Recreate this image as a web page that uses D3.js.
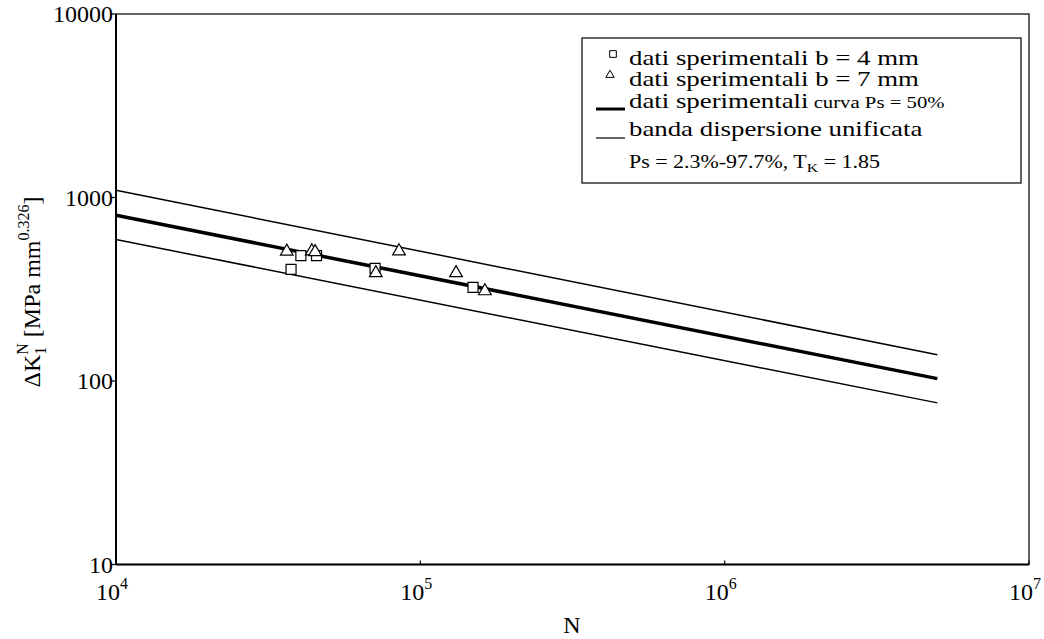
<!DOCTYPE html>
<html>
<head>
<meta charset="utf-8">
<script src="https://cdn.jsdelivr.net/npm/d3@7"></script>
<style>
    body { margin: 0; background: #fff; }
    svg { display: block; font-family: "Liberation Serif", "Times New Roman", serif; }
</style>
</head>
<body>
<svg id="chart" width="1044" height="639"></svg>
<script>

// Experimental points, b = 4 mm (squares)
const b4_N = [37600, 40500, 45600, 71000, 149000];
const b4_dk = [406, 482, 482, 411, 324];

// Experimental points, b = 7 mm (triangles)
const b7_N = [36400, 44000, 45100, 71400, 85100, 131000, 163000];
const b7_dk = [508, 510, 505, 388, 510, 388, 309];

// Curve Ps = 50% and scatter band 2.3% - 97.7% (end points)
const line_N = [1e4, 5e6];
const median_dk = [800, 103];
const upper_dk = [1095, 139];
const lower_dk = [590, 76];

const x_ticks = [1e4, 1e5, 1e6, 1e7];
const x_tick_exp = ["4", "5", "6", "7"];
const y_ticks = [10, 100, 1000, 10000];
const y_tick_labels = ["10", "100", "1000", "10000"];

const legend_items = ["dati sperimentali b = 4 mm", "dati sperimentali b = 7 mm",
    "dati sperimentali", "banda dispersione unificata"];

const svg = d3.select("#chart");

const x = d3.scaleLog().domain([1e4, 1e7]).range([116, 1029]);
const y = d3.scaleLog().domain([10, 10000]).range([564.5, 14]);

// text in the original is slightly stretched horizontally
const stretch = 1.22;

// Plot frame
svg.append("rect")
    .attr("x", x.range()[0]).attr("y", y.range()[1])
    .attr("width", x.range()[1] - x.range()[0])
    .attr("height", y.range()[0] - y.range()[1])
    .attr("fill", "none").attr("stroke", "#000").attr("stroke-width", 1.2);

// Axes lines (thicker)
svg.append("line")
    .attr("x1", x.range()[0]).attr("x2", x.range()[0])
    .attr("y1", y.range()[0]).attr("y2", y.range()[1])
    .attr("stroke", "#000").attr("stroke-width", 2);
svg.append("line")
    .attr("x1", x.range()[0]).attr("x2", x.range()[1])
    .attr("y1", y.range()[0]).attr("y2", y.range()[0])
    .attr("stroke", "#000").attr("stroke-width", 2);

// Y ticks and labels
const yt = svg.append("g").selectAll("g")
    .data(y_ticks)
    .enter().append("g");
yt.append("line")
    .attr("x1", x.range()[0] - 5).attr("x2", x.range()[0])
    .attr("y1", d => y(d)).attr("y2", d => y(d))
    .attr("stroke", "#000").attr("stroke-width", 1.2);
yt.append("text")
    .attr("x", x.range()[0] - 3)
    .attr("y", d => y(d) + 8)
    .attr("text-anchor", "end")
    .style("font-size", "24px")
    .text((d, i) => y_tick_labels[i]);

// X ticks and labels
const xt = svg.append("g").selectAll("g")
    .data(x_ticks)
    .enter().append("g");
xt.append("line")
    .attr("x1", d => x(d)).attr("x2", d => x(d))
    .attr("y1", y.range()[0] - 4).attr("y2", y.range()[0])
    .attr("stroke", "#000").attr("stroke-width", 1.2);
const xl = xt.append("text")
    .attr("x", d => x(d) - 20)
    .attr("y", 600)
    .style("font-size", "24px");
xl.append("tspan").text("10");
xl.append("tspan")
    .attr("dy", -11)
    .style("font-size", "16px")
    .text((d, i) => x_tick_exp[i]);

// Axis titles
svg.append("text")
    .attr("x", 572).attr("y", 633)
    .attr("text-anchor", "middle")
    .style("font-size", "24px")
    .text("N");

const ylab = svg.append("text")
    .attr("transform", "translate(40,292) rotate(-90)")
    .attr("text-anchor", "middle")
    .style("font-size", "24px");
ylab.append("tspan").text("ΔK");
ylab.append("tspan").attr("dy", 6).style("font-size", "16px").text("1");
ylab.append("tspan").attr("dy", -18).attr("dx", -8).style("font-size", "16px").text("N");
ylab.append("tspan").attr("dy", 12).text(" [MPa mm");
ylab.append("tspan").attr("dy", -11).style("font-size", "16px").text("0.326");
ylab.append("tspan").attr("dy", 11).text("]");

// Lines
const line = d3.line()
    .x(d => x(d[0]))
    .y(d => y(d[1]));

function draw_line(vals, width) {
    svg.append("path")
        .datum(d3.zip(line_N, vals))
        .attr("d", line)
        .attr("fill", "none")
        .attr("stroke", "#000")
        .attr("stroke-width", width);
}
draw_line(upper_dk, 1.5);
draw_line(lower_dk, 1.5);
draw_line(median_dk, 3.5);

// Symbols
const sq = d3.symbol().type(d3.symbolSquare).size(100);
const tri = d3.symbol().type(d3.symbolTriangle).size(70);

svg.append("g").selectAll("path")
    .data(d3.zip(b4_N, b4_dk))
    .enter().append("path")
    .attr("d", sq)
    .attr("transform", d => `translate(${x(d[0])},${y(d[1])})`)
    .attr("fill", "#fff").attr("stroke", "#000").attr("stroke-width", 1.2);

svg.append("g").selectAll("path")
    .data(d3.zip(b7_N, b7_dk))
    .enter().append("path")
    .attr("d", tri)
    .attr("transform", d => `translate(${x(d[0])},${y(d[1])})`)
    .attr("fill", "#fff").attr("stroke", "#000").attr("stroke-width", 1.2);

// Legend
const lg = svg.append("g");
lg.append("rect")
    .attr("x", 582).attr("y", 38)
    .attr("width", 439).attr("height", 145)
    .attr("fill", "#fff").attr("stroke", "#000").attr("stroke-width", 1.2);

lg.append("path")
    .attr("d", d3.symbol().type(d3.symbolSquare).size(45))
    .attr("transform", "translate(613,54)")
    .attr("fill", "#fff").attr("stroke", "#000").attr("stroke-width", 1);
lg.append("path")
    .attr("d", d3.symbol().type(d3.symbolTriangle).size(30))
    .attr("transform", "translate(610,75)")
    .attr("fill", "#fff").attr("stroke", "#000").attr("stroke-width", 1);
lg.append("line")
    .attr("x1", 596).attr("x2", 625).attr("y1", 109).attr("y2", 109)
    .attr("stroke", "#000").attr("stroke-width", 3);
lg.append("line")
    .attr("x1", 596).attr("x2", 625).attr("y1", 138).attr("y2", 138)
    .attr("stroke", "#000").attr("stroke-width", 1.2);

const row_y = [65, 86, 108, 136];
const items = lg.selectAll("text.item")
    .data(legend_items)
    .enter().append("text")
    .attr("class", "item")
    .attr("transform", (d, i) => `translate(629,${row_y[i]}) scale(${stretch},1)`)
    .style("font-size", "22px")
    .text(d => d);

items.filter((d, i) => i == 2)
    .append("tspan")
    .style("font-size", "17px")
    .text(" curva Ps = 50%");

const note = lg.append("text")
    .attr("transform", `translate(629,168) scale(${stretch},1)`)
    .style("font-size", "18px");
note.append("tspan").text("Ps = 2.3%-97.7%, T");
note.append("tspan").attr("dy", 4).style("font-size", "13px").text("K");
note.append("tspan").attr("dy", -4).text(" = 1.85");

</script>
</body>
</html>
